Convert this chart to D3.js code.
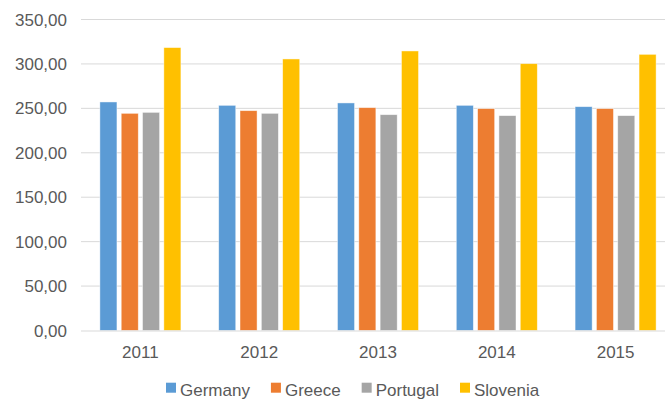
<!DOCTYPE html>
<html>
<head>
<meta charset="utf-8">
<script src="https://cdn.jsdelivr.net/npm/d3@7"></script>
<style>
  html, body { margin: 0; padding: 0; background: #fff; overflow: hidden; }
  svg { display: block; font-family: "Liberation Sans", Arial, sans-serif; }
</style>
</head>
<body>
<svg id="chart" width="665" height="399"></svg>
<script>
const categories = ["2011", "2012", "2013", "2014", "2015"];
const seriesNames = ["Germany", "Greece", "Portugal", "Slovenia"];
const germany  = [257.2, 253.4, 256.1, 253.4, 251.9];
const greece   = [244.4, 247.4, 250.8, 249.7, 249.7];
const portugal = [245.5, 244.4, 242.9, 241.8, 241.8];
const slovenia = [318.4, 305.6, 314.6, 300.3, 310.8];
const yTicks = [0, 50, 100, 150, 200, 250, 300, 350];
const colors = ["#5B9BD5", "#ED7D31", "#A5A5A5", "#FFC000"];

const seriesValues = [germany, greece, portugal, slovenia];

const svg = d3.select("#chart");
const plotLeft = 81, plotRight = 675, plotTop = 19.5, plotBottom = 330.5;
const fontSize = "17px";

const x = d3.scaleBand().domain(categories).range([plotLeft, plotRight]).paddingInner(0.318).paddingOuter(0.159);
const xs = d3.scaleBand().domain(seriesNames).range([0, x.bandwidth()]).paddingInner(0.2);
const y = d3.scaleLinear().domain([0, 350]).range([plotBottom, plotTop]);

// gridlines
svg.append("g").selectAll("line").data(yTicks.filter(d => d > 0)).join("line")
  .attr("x1", plotLeft).attr("x2", plotRight)
  .attr("y1", d => y(d)).attr("y2", d => y(d))
  .attr("stroke", "#d9d9d9").attr("stroke-width", 1);

// y labels
const fmt = d => d3.format(".2f")(d).replace(".", ",");
svg.append("g").selectAll("text").data(yTicks).join("text")
  .attr("x", 67).attr("y", d => y(d)).attr("dy", "0.36em")
  .attr("text-anchor", "end").attr("fill", "#595959").attr("font-size", fontSize)
  .text(fmt);

// bars
const rows = categories.map((c, i) => ({ c, vals: seriesNames.map((s, j) => ({ s, j, v: seriesValues[j][i] })) }));
svg.append("g").selectAll("g").data(rows).join("g")
  .attr("transform", d => `translate(${x(d.c)},0)`)
  .selectAll("rect").data(d => d.vals).join("rect")
  .attr("x", d => xs(d.s)).attr("width", xs.bandwidth())
  .attr("y", d => y(d.v)).attr("height", d => y(0) - y(d.v))
  .attr("fill", d => colors[d.j])
  .attr("stroke", "#ffffff").attr("stroke-width", 0.75).attr("stroke-opacity", 0.6);

// x axis line
svg.append("line").attr("x1", plotLeft).attr("x2", plotRight).attr("y1", plotBottom + 0.5).attr("y2", plotBottom + 0.5)
  .attr("stroke", "#d9d9d9").attr("stroke-width", 1.2);

// x labels
svg.append("g").selectAll("text").data(categories).join("text")
  .attr("x", d => x(d) + x.bandwidth() / 2).attr("y", 358)
  .attr("text-anchor", "middle").attr("fill", "#595959").attr("font-size", fontSize)
  .text(d => d);

// legend
const legend = svg.append("g").attr("transform", "translate(166,0)");
let lx = 0;
seriesNames.forEach((s, j) => {
  const g = legend.append("g").attr("transform", `translate(${lx},0)`);
  g.append("rect").attr("x", 0).attr("y", 382.7).attr("width", 10).attr("height", 10).attr("fill", colors[j]);
  const t = g.append("text").attr("x", 14).attr("y", 396).attr("fill", "#595959").attr("font-size", fontSize).text(s);
  lx += 14 + t.node().getComputedTextLength() + 21;
});
</script>
</body>
</html>
